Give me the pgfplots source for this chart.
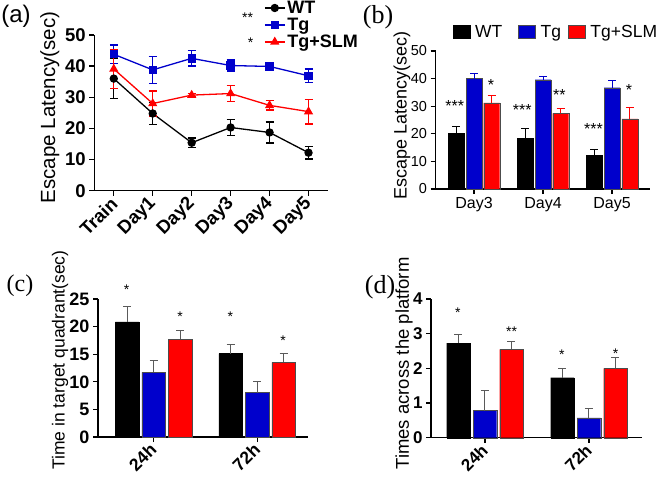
\documentclass[border=0pt]{standalone}
\usepackage{fontspec}
\setmainfont{Liberation Sans}
\newfontfamily\serif{Liberation Serif}
\usepackage{pgfplots}
\pgfplotsset{compat=1.18}

\definecolor{tgblue}{RGB}{0,0,204}
\definecolor{slmred}{RGB}{255,0,0}
\definecolor{errgray}{RGB}{90,90,90}

\pgfplotsset{
  prism/.style={
    scale only axis, clip=false,
    axis lines=left,
    axis line style={-, line width=1.5pt},
    tick style={black, line width=1.3pt},
    major tick length=5pt,
    tick align=outside,
    /pgf/number format/assume math mode=true,
  },
}
\tikzset{
  astr/.style={font=\fontsize{14}{14}\selectfont, inner sep=0pt, anchor=base, yshift=-8pt},
  bigastr/.style={font=\fontsize{16}{16}\selectfont, inner sep=0pt, anchor=base, yshift=-9.1pt},
}

\begin{document}
\begin{tikzpicture}
\path[use as bounding box] (0pt,0pt) rectangle (666pt,480pt);

% (a) escape latency over days
\begin{axis}[prism,
  at={(94.3pt,289.3pt)}, anchor=south west,
  width=233.7pt, height=155.7pt,
  xmin=-0.5, xmax=5.5, ymin=0, ymax=50,
  ytick={0,10,20,30,40,50},
  xtick={0,1,2,3,4,5},
  xticklabels={Train,Day1,Day2,Day3,Day4,Day5},
  xticklabel style={rotate=45, anchor=east, yshift=-4pt, font=\bfseries\fontsize{18.5}{18.5}\selectfont},
  yticklabel style={font=\bfseries\fontsize{18.5}{18.5}\selectfont},
  ylabel={Escape Latency(sec)},
  ylabel style={at={(axis description cs:-0.19,0.534)}, anchor=center, font=\fontsize{20.5}{20.5}\selectfont},
  legend style={at={(axis description cs:0.713,1.245)}, anchor=north west, draw=none, fill=none,
    font=\bfseries\fontsize{18}{18}\selectfont, row sep=-1pt},
  legend cell align=left,
  legend image code/.code={\draw[mark repeat=2,mark phase=2,#1] plot coordinates {(0pt,0pt) (10pt,0pt) (20pt,0pt)};},
]
\addplot[black, line width=1.3pt, mark=*, mark size=3.5pt,
  error bars/.cd, y dir=both, y explicit,
  error bar style={black, line width=1.3pt}, error mark options={rotate=90, black, mark size=4pt, line width=1.3pt}]
  coordinates {(0,36.0) +- (0,6.5) (1,24.8) +- (0,3.5) (2,15.4) +- (0,1.5) (3,20.3) +- (0,2.5) (4,18.7) +- (0,3.4) (5,12.2) +- (0,2.0)};
\addplot[tgblue, line width=1.3pt, mark=square*, mark size=3.5pt,
  error bars/.cd, y dir=both, y explicit,
  error bar style={tgblue, line width=1.3pt}, error mark options={rotate=90, tgblue, mark size=4pt, line width=1.3pt}]
  coordinates {(0,43.8) +- (0,3.0) (1,38.8) +- (0,4.3) (2,42.5) +- (0,2.5) (3,40.2) +- (0,1.8) (4,39.9) +- (0,0.8) (5,36.9) +- (0,2.2)};
\addplot[slmred, line width=1.3pt, mark=triangle*, mark size=4pt,
  error bars/.cd, y dir=both, y explicit,
  error bar style={slmred, line width=1.3pt}, error mark options={rotate=90, slmred, mark size=4pt, line width=1.3pt}]
  coordinates {(0,39.1) +- (0,6.2) (1,28.0) +- (0,4.0) (2,30.7) +- (0,0.5) (3,31.2) +- (0,2.5) (4,27.4) +- (0,1.5) (5,25.4) +- (0,4.0)};
\legend{WT,Tg,Tg+SLM}
\end{axis}
\node[astr] at (247.5pt,465pt) {**};
\node[astr] at (250.7pt,440pt) {*};

% (b) escape latency, days 3-5
\begin{axis}[prism,
  at={(435.5pt,291pt)}, anchor=south west,
  width=214.5pt, height=138pt,
  xmin=-0.558, xmax=2.55, ymin=0, ymax=50,
  ytick={0,10,20,30,40,50},
  xtick={0,1,2}, xticklabels={Day3,Day4,Day5},
  ybar=1.7pt, bar width=16pt,
  xticklabel style={font=\fontsize{16}{16}\selectfont},
  yticklabel style={font=\fontsize{14.5}{14.5}\selectfont},
  ylabel={Escape Latency(sec)},
  ylabel style={at={(axis description cs:-0.156,0.53)}, anchor=center, font=\fontsize{18}{18}\selectfont},
  legend style={at={(axis description cs:0.065,1.134)}, anchor=west, draw=none, fill=none,
    font=\fontsize{17.5}{17.5}\selectfont},
  legend columns=3,
  legend image code/.code={\path[#1] (0pt,-6pt) rectangle (17pt,7pt);},
]
\addplot[fill=black, draw=black,
  error bars/.cd, y dir=plus, y explicit,
  error bar style={black, line width=1pt}, error mark options={rotate=90, black, mark size=4pt, line width=1pt}]
  coordinates {(0,20.1) +- (0,2.7) (1,18.4) +- (0,3.5) (2,12.1) +- (0,2.3)};
\addplot[fill=tgblue, draw=black!70,
  error bars/.cd, y dir=plus, y explicit,
  error bar style={tgblue, line width=1pt}, error mark options={rotate=90, tgblue, mark size=4pt, line width=1pt}]
  coordinates {(0,40.0) +- (0,1.9) (1,39.6) +- (0,1.3) (2,36.7) +- (0,2.6)};
\addplot[fill=slmred, draw=black!70,
  error bars/.cd, y dir=plus, y explicit,
  error bar style={slmred, line width=1pt}, error mark options={rotate=90, slmred, mark size=4pt, line width=1pt}]
  coordinates {(0,31.2) +- (0,2.5) (1,27.4) +- (0,1.6) (2,25.4) +- (0,4.1)};
\legend{\rule{3pt}{0pt}WT\rule{14pt}{0pt},\rule{3pt}{0pt}Tg\rule{5pt}{0pt},\rule{3pt}{0pt}Tg+SLM}
\node[bigastr] at (axis cs:-0.28,31.3) {***};
\node[bigastr] at (axis cs:0.246,38.9) {*};
\node[bigastr] at (axis cs:0.70,30.1) {***};
\node[bigastr] at (axis cs:1.236,35.3) {**};
\node[bigastr] at (axis cs:1.73,22.9) {***};
\node[bigastr] at (axis cs:2.246,37.3) {*};
\end{axis}

% (c) time in target quadrant
\begin{axis}[prism,
  at={(98pt,43pt)}, anchor=south west,
  width=210pt, height=138pt,
  xmin=-0.536, xmax=1.49, ymin=0, ymax=25,
  ytick={0,5,10,15,20,25},
  xtick={0,1}, xticklabels={24h,72h},
  ybar=3pt, bar width=23.5pt,
  xticklabel style={rotate=45, anchor=east, yshift=-3pt, font=\bfseries\fontsize{17.5}{17.5}\selectfont},
  yticklabel style={font=\bfseries\fontsize{18}{18}\selectfont},
  ylabel={Time in target quadrant(sec)},
  ylabel style={at={(axis description cs:-0.18,0.558)}, anchor=center, font=\fontsize{17.5}{17.5}\selectfont},
]
\addplot[fill=black, draw=black,
  error bars/.cd, y dir=plus, y explicit,
  error bar style={errgray, line width=1pt}, error mark options={rotate=90, errgray, mark size=4pt, line width=1pt}]
  coordinates {(0,20.85) +- (0,2.85) (1,15.1) +- (0,1.7)};
\addplot[fill=tgblue, draw=black!70,
  error bars/.cd, y dir=plus, y explicit,
  error bar style={errgray, line width=1pt}, error mark options={rotate=90, errgray, mark size=4pt, line width=1pt}]
  coordinates {(0,11.7) +- (0,2.1) (1,8.05) +- (0,1.95)};
\addplot[fill=slmred, draw=black!70,
  error bars/.cd, y dir=plus, y explicit,
  error bar style={errgray, line width=1pt}, error mark options={rotate=90, errgray, mark size=4pt, line width=1pt}]
  coordinates {(0,17.7) +- (0,1.65) (1,13.5) +- (0,1.65)};
\node[astr] at (axis cs:-0.26,27.2) {*};
\node[astr] at (axis cs:0.256,22.4) {*};
\node[astr] at (axis cs:0.74,22.4) {*};
\node[astr] at (axis cs:1.25,18.1) {*};
\end{axis}

% (d) platform crossings
\begin{axis}[prism,
  at={(431pt,42.3pt)}, anchor=south west,
  width=211pt, height=138.7pt,
  xmin=-0.519, xmax=1.51, ymin=0, ymax=4,
  ytick={0,1,2,3,4},
  xtick={0,1}, xticklabels={24h,72h},
  ybar=3pt, bar width=23.5pt,
  xticklabel style={rotate=45, anchor=east, yshift=-3pt, font=\bfseries\fontsize{17}{17}\selectfont},
  yticklabel style={font=\bfseries\fontsize{17}{17}\selectfont},
  ylabel={Times across the platform},
  ylabel style={at={(axis description cs:-0.128,0.535)}, anchor=center, font=\fontsize{18.5}{18.5}\selectfont},
]
\addplot[fill=black, draw=black,
  error bars/.cd, y dir=plus, y explicit,
  error bar style={errgray, line width=1pt}, error mark options={rotate=90, errgray, mark size=4pt, line width=1pt}]
  coordinates {(0,2.73) +- (0,0.26) (1,1.73) +- (0,0.27)};
\addplot[fill=tgblue, draw=black!70,
  error bars/.cd, y dir=plus, y explicit,
  error bar style={errgray, line width=1pt}, error mark options={rotate=90, errgray, mark size=4pt, line width=1pt}]
  coordinates {(0,0.78) +- (0,0.58) (1,0.57) +- (0,0.26)};
\addplot[fill=slmred, draw=black!70,
  error bars/.cd, y dir=plus, y explicit,
  error bar style={errgray, line width=1pt}, error mark options={rotate=90, errgray, mark size=4pt, line width=1pt}]
  coordinates {(0,2.55) +- (0,0.22) (1,2.0) +- (0,0.3)};
\node[astr] at (axis cs:-0.26,3.69) {*};
\node[astr] at (axis cs:0.256,3.16) {**};
\node[astr] at (axis cs:0.74,2.49) {*};
\node[astr] at (axis cs:1.256,2.51) {*};
\end{axis}

\node[font=\fontsize{24}{24}\selectfont] at (16pt,464pt) {(a)};
\node[font=\serif\fontsize{26}{26}\selectfont] at (378pt,463pt) {(b)};
\node[font=\serif\fontsize{24}{24}\selectfont] at (20pt,194pt) {(c)};
\node[font=\serif\fontsize{26}{26}\selectfont] at (380pt,193pt) {(d)};
\end{tikzpicture}
\end{document}
